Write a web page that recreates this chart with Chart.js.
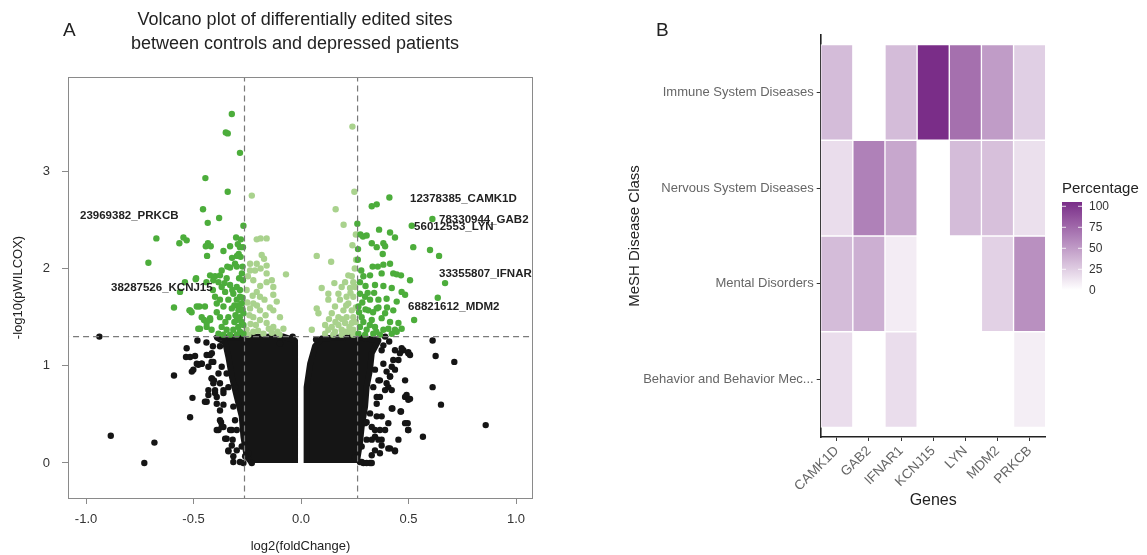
<!DOCTYPE html>
<html>
<head>
<meta charset="utf-8">
<script src="https://cdn.jsdelivr.net/npm/chart.js@4.4.1/dist/chart.umd.min.js"></script>
<style>
  body { margin: 0; background: #fff; font-family: "Liberation Sans", Arial, sans-serif; }
  #wrap { position: relative; width: 1147px; height: 555px; overflow: hidden; }
  .txt { position: absolute; color: #222; white-space: nowrap; }
  #cvA { position: absolute; left: 0; top: 0; }
  #cvB { position: absolute; left: 560px; top: 0; }
</style>
</head>
<body>
<div id="wrap">
  <canvas id="cvA" width="560" height="555"></canvas>
  <canvas id="cvB" width="587" height="555"></canvas>
  <div class="txt" style="left:63px;top:19px;font-size:19px;">A</div>
  <div class="txt" style="left:656px;top:19px;font-size:19px;">B</div>
  <div class="txt" style="left:95px;width:400px;top:7px;font-size:18px;line-height:24px;text-align:center;">Volcano plot of differentially edited sites<br>between controls and depressed patients</div>
</div>
<script>
// ---- panel A: volcano plot ----
const sigDark = [
  [-0.322,3.59],[-0.350,3.40],[-0.341,3.39],[-0.284,3.19],[-0.445,2.93],[-0.341,2.79],[-0.456,2.61],[-0.381,2.52],
  [-0.434,2.47],[-0.268,2.44],[-0.673,2.31],[-0.547,2.32],[-0.566,2.26],[-0.532,2.29],[-0.302,2.32],[-0.433,2.26],
  [-0.443,2.23],[-0.420,2.23],[-0.330,2.23],[-0.294,2.25],[-0.284,2.22],[-0.361,2.18],[-0.290,2.15],[-0.298,2.13],
  [-0.281,2.12],[-0.437,2.13],[-0.710,2.06],[-0.321,2.11],[-0.307,2.05],[-0.299,2.02],[-0.330,2.01],[-0.369,1.98],
  [-0.343,2.02],[-0.423,1.93],[-0.400,1.92],[-0.377,1.93],[-0.408,1.88],[-0.384,1.86],[-0.346,1.90],[-0.488,1.90],
  [-0.540,1.86],[-0.563,1.76],[-0.369,1.81],[-0.330,1.83],[-0.299,1.81],[-0.284,1.78],[-0.353,1.76],[-0.315,1.74],
  [-0.284,1.71],[-0.400,1.71],[-0.377,1.68],[-0.338,1.68],[-0.299,1.68],[-0.276,1.64],[-0.591,1.60],[-0.519,1.57],
  [-0.509,1.55],[-0.473,1.61],[-0.447,1.61],[-0.392,1.64],[-0.361,1.61],[-0.322,1.59],[-0.291,1.57],[-0.268,1.54],
  [-0.462,1.50],[-0.423,1.49],[-0.377,1.50],[-0.338,1.50],[-0.299,1.47],[-0.276,1.45],[-0.478,1.38],[-0.439,1.40],
  [-0.416,1.37],[-0.369,1.40],[-0.346,1.37],[-0.315,1.37],[-0.284,1.35],[-0.268,1.33],[-0.384,1.33],[-0.361,1.32],
  [-0.330,1.32],[-0.299,1.32],[-0.490,1.89],[-0.516,1.57],[-0.485,1.61],[-0.451,1.47],[-0.439,1.44],[-0.470,1.38],
  [-0.423,1.47],[-0.275,1.95],[-0.270,1.88],[-0.288,1.90],[-0.272,1.70],[-0.290,1.62],[-0.272,1.58],[-0.285,1.50],
  [-0.268,1.42],[-0.292,1.40],[-0.310,1.45],[-0.305,1.52],[-0.310,1.62],[-0.320,1.78],[-0.272,2.02],[-0.280,2.30],
  [-0.270,2.22],[-0.352,1.45],[-0.392,1.55],[-0.410,1.78],[-0.356,1.85],[-0.440,1.86],
  [0.411,2.73],[0.329,2.64],[0.352,2.66],[0.611,2.51],[0.515,2.44],[0.262,2.46],[0.363,2.40],[0.276,2.35],
  [0.288,2.33],[0.305,2.34],[0.414,2.37],[0.437,2.32],[0.329,2.26],[0.352,2.22],[0.383,2.26],[0.391,2.23],
  [0.522,2.22],[0.600,2.19],[0.642,2.13],[0.380,2.15],[0.264,2.09],[0.333,2.02],[0.357,2.02],[0.383,2.04],
  [0.414,2.05],[0.429,1.95],[0.445,1.94],[0.465,1.93],[0.321,1.93],[0.290,1.92],[0.274,1.86],[0.507,1.88],
  [0.670,1.85],[0.344,1.83],[0.383,1.82],[0.422,1.80],[0.484,1.73],[0.468,1.76],[0.274,1.74],[0.298,1.71],
  [0.321,1.68],[0.360,1.68],[0.398,1.69],[0.445,1.66],[0.636,1.70],[0.267,1.61],[0.313,1.57],[0.352,1.59],
  [0.391,1.54],[0.429,1.57],[0.282,1.50],[0.329,1.47],[0.375,1.49],[0.414,1.45],[0.453,1.44],[0.526,1.47],
  [0.274,1.40],[0.305,1.37],[0.344,1.40],[0.383,1.37],[0.406,1.38],[0.437,1.37],[0.468,1.38],[0.267,1.33],
  [0.298,1.32],[0.336,1.33],[0.367,1.32],[0.422,1.33],[0.445,1.35],[0.280,1.98],[0.300,1.82],[0.285,1.65],
  [0.310,1.75],[0.335,1.55],[0.360,1.60],[0.290,1.45],[0.320,1.42],[0.350,1.35],[0.270,1.55],[0.300,1.58],
  [0.340,1.75],[0.400,1.60],[0.375,1.95],[0.265,2.20]
];
const sigLight = [
  [-0.229,2.75],[-0.206,2.30],[-0.188,2.31],[-0.160,2.31],[-0.183,2.14],[-0.172,2.10],[-0.206,2.05],[-0.237,2.05],
  [-0.160,2.03],[-0.188,2.00],[-0.214,1.98],[-0.070,1.94],[-0.237,1.98],[-0.247,1.92],[-0.222,1.88],[-0.160,1.86],
  [-0.136,1.88],[-0.129,1.81],[-0.206,1.76],[-0.253,1.78],[-0.191,1.71],[-0.129,1.73],[-0.113,1.66],[-0.222,1.64],
  [-0.237,1.59],[-0.191,1.57],[-0.129,1.57],[-0.098,1.50],[-0.222,1.50],[-0.191,1.47],[-0.160,1.44],[-0.129,1.40],
  [-0.082,1.38],[-0.253,1.37],[-0.222,1.35],[-0.175,1.33],[-0.136,1.34],[-0.170,1.68],[-0.205,1.62],[-0.240,1.52],
  [-0.210,1.42],[-0.235,1.43],[-0.200,1.36],[-0.150,1.38],[-0.110,1.35],[-0.165,1.52],[-0.145,1.60],[-0.250,1.65],
  [-0.245,1.32],[-0.190,1.82],[-0.225,1.72],[-0.160,1.95],[-0.100,1.32],
  [0.239,3.46],[0.248,2.79],[0.161,2.61],[0.198,2.45],[0.239,2.24],[0.073,2.13],[0.140,2.07],[0.256,2.09],
  [0.220,1.93],[0.236,1.92],[0.205,1.86],[0.243,1.86],[0.155,1.85],[0.189,1.81],[0.228,1.80],[0.096,1.80],
  [0.251,1.81],[0.127,1.74],[0.174,1.74],[0.212,1.71],[0.243,1.71],[0.181,1.68],[0.220,1.64],[0.127,1.68],
  [0.158,1.61],[0.197,1.57],[0.236,1.57],[0.073,1.59],[0.081,1.54],[0.143,1.54],[0.174,1.50],[0.212,1.50],
  [0.243,1.50],[0.112,1.42],[0.143,1.40],[0.174,1.42],[0.205,1.44],[0.236,1.44],[0.127,1.37],[0.158,1.35],
  [0.189,1.37],[0.220,1.35],[0.243,1.37],[0.050,1.37],[0.112,1.33],[0.189,1.32],[0.243,1.32],[0.255,2.35],
  [0.250,2.00],[0.230,1.75],[0.210,1.62],[0.190,1.48],[0.225,1.40],[0.160,1.45],[0.130,1.48],[0.255,1.60],
  [0.255,1.45],[0.150,1.32],[0.205,1.35]
];
const nsPoints = [
  [-0.938,1.30],[-0.885,0.28],[-0.682,0.21],[-0.729,0.00],[-0.591,0.90],[-0.516,0.47],[-0.505,0.67],[-0.508,0.94],
  [-0.532,1.18],[-0.535,1.09],[-0.493,1.10],[-0.478,1.01],[-0.462,1.02],[-0.482,1.26],[-0.439,1.11],[-0.415,1.13],
  [-0.408,1.04],[-0.431,0.99],[-0.415,0.87],[-0.405,0.85],[-0.431,0.75],[-0.439,0.63],[-0.400,0.72],[-0.392,0.34],
  [-0.369,0.37],[-0.346,0.25],[-0.338,0.13],[-0.315,0.01],[-0.276,0.17],[-0.307,0.44],[-0.361,0.60],[-0.372,0.42],
  [-0.322,0.34],[-0.318,0.24],[-0.384,0.92],[-0.377,0.82],[-0.361,0.75],[-0.392,0.68],[-0.268,0.00],[-0.229,0.00],
  [-0.245,0.10],[-0.260,0.07],[-0.098,1.23],[-0.039,1.30],[-0.516,1.09],[-0.485,1.02],[-0.501,0.96],[-0.462,1.02],
  [-0.423,1.11],[-0.416,1.04],[-0.447,0.63],[-0.431,0.70],[-0.416,0.87],[-0.408,0.82],[-0.400,0.75],[-0.392,0.61],
  [-0.377,0.44],[-0.384,0.34],[-0.361,0.37],[-0.353,0.25],[-0.322,0.18],[-0.299,0.13],[-0.315,0.07],[-0.284,0.01],
  [-0.338,0.12],[-0.377,0.54],[-0.361,0.72],[-0.346,0.92],[-0.338,0.78],[-0.307,0.78],[-0.315,0.58],[-0.299,0.34],
  [-0.330,0.34],[-0.369,0.99],[-0.377,1.20],[-0.410,1.20],[-0.440,1.24],
  [0.612,1.26],[0.626,1.10],[0.713,1.04],[0.612,0.78],[0.651,0.60],[0.859,0.39],[0.567,0.27],[0.498,0.34],
  [0.496,0.41],[0.484,0.68],[0.499,0.65],[0.484,0.85],[0.463,0.53],[0.453,0.24],[0.437,0.13],[0.406,0.15],
  [0.367,0.10],[0.329,0.08],[0.321,0.00],[0.290,0.00],[0.274,0.01],[0.251,0.06],[0.425,0.56],[0.460,1.13],
  [0.499,1.14],[0.507,1.11],[0.476,1.16],[0.383,1.21],[0.391,1.30],[0.429,1.06],[0.422,0.99],[0.398,0.94],
  [0.414,0.89],[0.406,0.78],[0.391,0.75],[0.367,0.68],[0.352,0.61],[0.336,0.78],[0.367,0.85],[0.367,0.34],
  [0.344,0.27],[0.375,0.24],[0.329,0.37],[0.352,0.48],[0.305,0.24],[0.282,0.17],[0.298,0.41],[0.437,1.16],
  [0.468,1.18],[0.499,1.13],[0.491,0.70],[0.507,0.66],[0.422,0.56],[0.465,0.53],[0.484,0.41],[0.499,0.34],
  [0.414,0.15],[0.437,0.12],[0.375,0.18],[0.360,0.24],[0.391,0.34],[0.406,0.41],[0.375,0.48],[0.422,0.75],
  [0.398,0.82],[0.437,0.96],[0.453,1.06],[0.383,1.02],[0.414,0.89],[0.344,0.34],[0.329,0.24],[0.344,0.13],
  [0.282,0.01],[0.305,0.00],[0.329,0.00],[0.352,0.68],[0.360,0.85],[0.344,0.96],[0.375,1.16],[0.321,0.51],
  [0.305,0.42],[0.410,1.25],[0.070,1.27]
];
// outline of the solid black mass of non significant sites
const nsCoreLeft = [
  [-0.028,0.00],[-0.028,1.26],[-0.082,1.30],[-0.392,1.29],[-0.353,1.24],[-0.338,1.09],[-0.322,0.89],
  [-0.299,0.68],[-0.276,0.48],[-0.268,0.27],[-0.253,0.07],[-0.229,0.00]
];
const nsCoreRight = [
  [0.026,0.00],[0.026,0.78],[0.042,1.02],[0.065,1.20],[0.096,1.28],[0.251,1.30],[0.360,1.26],
  [0.329,1.13],[0.321,0.96],[0.305,0.78],[0.298,0.58],[0.282,0.37],[0.274,0.20],[0.259,0.00]
];
const siteLabels = [
  ['23969382_PRKCB', -1.028, 2.54],
  ['38287526_KCNJ15', -0.884, 1.80],
  ['12378385_CAMK1D', 0.507, 2.72],
  ['78330944_GAB2', 0.642, 2.50],
  ['56012553_LYN', 0.526, 2.43],
  ['33355807_IFNAR1', 0.642, 1.95],
  ['68821612_MDM2', 0.498, 1.61]
];
const fcCut = 0.263;
const pCut = 1.3;

// ---- panel B: heatmap ----
const genes = ['CAMK1D', 'GAB2', 'IFNAR1', 'KCNJ15', 'LYN', 'MDM2', 'PRKCB'];
const diseases = ['Immune System Diseases', 'Nervous System Diseases', 'Mental Disorders', 'Behavior and Behavior Mec...'];
const immunePct   = [32, null, 32, 100, 68, 47, 23];
const nervousPct  = [16, 60, 42, null, 32, 30, 15];
const mentalPct   = [32, 38, 9, null, null, 22, 53];
const behaviorPct = [16, null, 16, null, null, null, 8];
const legendTicks = [0, 25, 50, 75, 100];

const toXY = arr => arr.map(p => ({x: p[0], y: p[1]}));

const boxPlugin = {
  id: 'box',
  afterDatasetsDraw(chart) {
    const {ctx, chartArea: a, scales} = chart;
    ctx.save();
    ctx.beginPath();
    ctx.rect(a.left, a.top, a.right - a.left, a.bottom - a.top);
    ctx.clip();
    ctx.font = 'bold 11.5px "Liberation Sans", Arial, sans-serif';
    ctx.fillStyle = '#222';
    ctx.textBaseline = 'middle';
    siteLabels.forEach(l => {
      ctx.fillText(l[0], scales.x.getPixelForValue(l[1]), scales.y.getPixelForValue(l[2]));
    });
    ctx.restore();
    ctx.save();
    ctx.strokeStyle = '#8a8a8a';
    ctx.lineWidth = 1;
    ctx.strokeRect(a.left + 0.5, a.top + 0.5, a.right - a.left - 1, a.bottom - a.top);
    ctx.restore();
  }
};

const dash = {type: 'scatter', showLine: true, borderColor: '#7a7a7a', borderWidth: 1.2, borderDash: [6, 4], pointRadius: 0, order: 0};
const coreStyle = {showLine: true, fill: 'shape', backgroundColor: '#151515', borderColor: '#151515',
                   borderWidth: 6, borderJoinStyle: 'round', pointRadius: 0, order: 4};

new Chart(document.getElementById('cvA'), {
  type: 'scatter',
  data: {
    datasets: [
      Object.assign({data: [{x: -1.2, y: pCut}, {x: 1.2, y: pCut}]}, dash),
      Object.assign({data: [{x: -fcCut, y: -0.5}, {x: -fcCut, y: 4.1}]}, dash),
      Object.assign({data: [{x: fcCut, y: -0.5}, {x: fcCut, y: 4.1}]}, dash),
      {data: toXY(sigDark), backgroundColor: '#4cad3b', pointRadius: 3.2, borderWidth: 0, order: 1},
      {data: toXY(sigLight), backgroundColor: '#a9d28d', pointRadius: 3.2, borderWidth: 0, order: 2},
      {data: toXY(nsPoints), backgroundColor: '#151515', pointRadius: 3.2, borderWidth: 0, order: 3},
      Object.assign({data: toXY(nsCoreLeft)}, coreStyle),
      Object.assign({data: toXY(nsCoreRight)}, coreStyle)
    ]
  },
  options: {
    responsive: false,
    animation: false,
    layout: {padding: {left: 0, top: 77, right: 27, bottom: 0}},
    plugins: {legend: {display: false}, tooltip: {enabled: false}},
    scales: {
      x: {
        type: 'linear', min: -1.084, max: 1.079,
        afterFit: s => { s.height = 57; },
        ticks: {stepSize: 0.5, includeBounds: false, padding: 8, color: '#333',
                font: {size: 13, family: '"Liberation Sans", Arial'}, callback: v => v.toFixed(1)},
        grid: {drawOnChartArea: false, tickLength: 6, color: '#8a8a8a'},
        border: {display: false},
        title: {display: true, text: 'log2(foldChange)', color: '#222', padding: {top: 0, bottom: 1},
                font: {size: 13, family: '"Liberation Sans", Arial'}}
      },
      y: {
        type: 'linear', min: -0.36, max: 3.97,
        afterFit: s => { s.width = 68; },
        ticks: {stepSize: 1, includeBounds: false, padding: 12, color: '#333',
                font: {size: 13, family: '"Liberation Sans", Arial'}},
        grid: {drawOnChartArea: false, tickLength: 6, color: '#8a8a8a'},
        border: {display: false},
        title: {display: true, text: '-log10(pWILCOX)', color: '#222', padding: {top: 11, bottom: 0},
                font: {size: 13, family: '"Liberation Sans", Arial'}}
      }
    }
  },
  plugins: [boxPlugin]
});

// ---- heatmap ----
const lowCol = [255, 255, 255];
const highCol = [122, 45, 136];
function pctColor(v) {
  const t = Math.max(0, Math.min(1, v / 100));
  const c = lowCol.map((lo, i) => Math.round(lo + (highCol[i] - lo) * t));
  return 'rgb(' + c.join(',') + ')';
}
const rows = [immunePct, nervousPct, mentalPct, behaviorPct];

const legendPlugin = {
  id: 'pctLegend',
  afterDraw(chart) {
    const ctx = chart.ctx;
    const left = 502, top = 202, w = 20, h = 88;
    ctx.save();
    ctx.font = '15px "Liberation Sans", Arial, sans-serif';
    ctx.fillStyle = '#222';
    ctx.textBaseline = 'middle';
    ctx.fillText('Percentage', left, 189);
    const g = ctx.createLinearGradient(0, top + h, 0, top);
    for (let i = 0; i <= 10; i++) g.addColorStop(i / 10, pctColor(i * 10));
    ctx.fillStyle = g;
    ctx.fillRect(left, top, w, h);
    ctx.font = '12px "Liberation Sans", Arial, sans-serif';
    legendTicks.forEach(v => {
      const y = top + h - (v / 100) * (h - 4) + 0.3;
      ctx.strokeStyle = 'rgba(255,255,255,0.8)';
      ctx.lineWidth = 1;
      if (v > 0) {
        ctx.beginPath();
        ctx.moveTo(left, y); ctx.lineTo(left + 4, y);
        ctx.moveTo(left + w - 4, y); ctx.lineTo(left + w, y);
        ctx.stroke();
      }
      ctx.fillStyle = '#333';
      ctx.fillText(String(v), left + 27, y);
    });
    ctx.restore();
  }
};

new Chart(document.getElementById('cvB'), {
  type: 'bar',
  data: {
    labels: genes,
    datasets: rows.map((vals, r) => ({
      label: diseases[r],
      data: vals.map(v => v == null ? null : [r + 0.5, r + 1.5]),
      backgroundColor: vals.map(v => v == null ? 'rgba(0,0,0,0)' : pctColor(v)),
      borderColor: '#ffffff',
      borderWidth: 1,
      borderSkipped: false,
      grouped: false,
      barPercentage: 1,
      categoryPercentage: 1
    }))
  },
  options: {
    responsive: false,
    animation: false,
    layout: {padding: {left: 62, top: 35, right: 101.3, bottom: 40}},
    plugins: {legend: {display: false}, tooltip: {enabled: false}},
    scales: {
      x: {
        afterFit: s => { s.height = 78; },
        ticks: {autoSkip: false, minRotation: 45, maxRotation: 45, padding: 2, color: '#666',
                font: {size: 13.5, family: '"Liberation Sans", Arial'}},
        grid: {drawOnChartArea: false, offset: false, tickLength: 4, color: '#333'},
        border: {display: true, color: '#222', width: 1.6},
        title: {display: true, text: 'Genes', color: '#222', padding: {top: 0, bottom: 5},
                font: {size: 16, family: '"Liberation Sans", Arial'}}
      },
      y: {
        type: 'linear', min: 0.4, max: 4.6, reverse: true,
        afterFit: s => { s.width = 198.7; },
        afterBuildTicks: s => { s.ticks = [1, 2, 3, 4].map(v => ({value: v})); },
        ticks: {padding: 3, color: '#666', font: {size: 13, family: '"Liberation Sans", Arial'},
                callback: v => diseases[v - 1]},
        grid: {drawOnChartArea: false, tickLength: 4, color: '#333'},
        border: {display: true, color: '#222', width: 1.6},
        title: {display: true, text: 'MeSH Disease Class', color: '#222', padding: {top: 4, bottom: 0},
                font: {size: 15, family: '"Liberation Sans", Arial'}}
      }
    }
  },
  plugins: [legendPlugin]
});
</script>
</body>
</html>
